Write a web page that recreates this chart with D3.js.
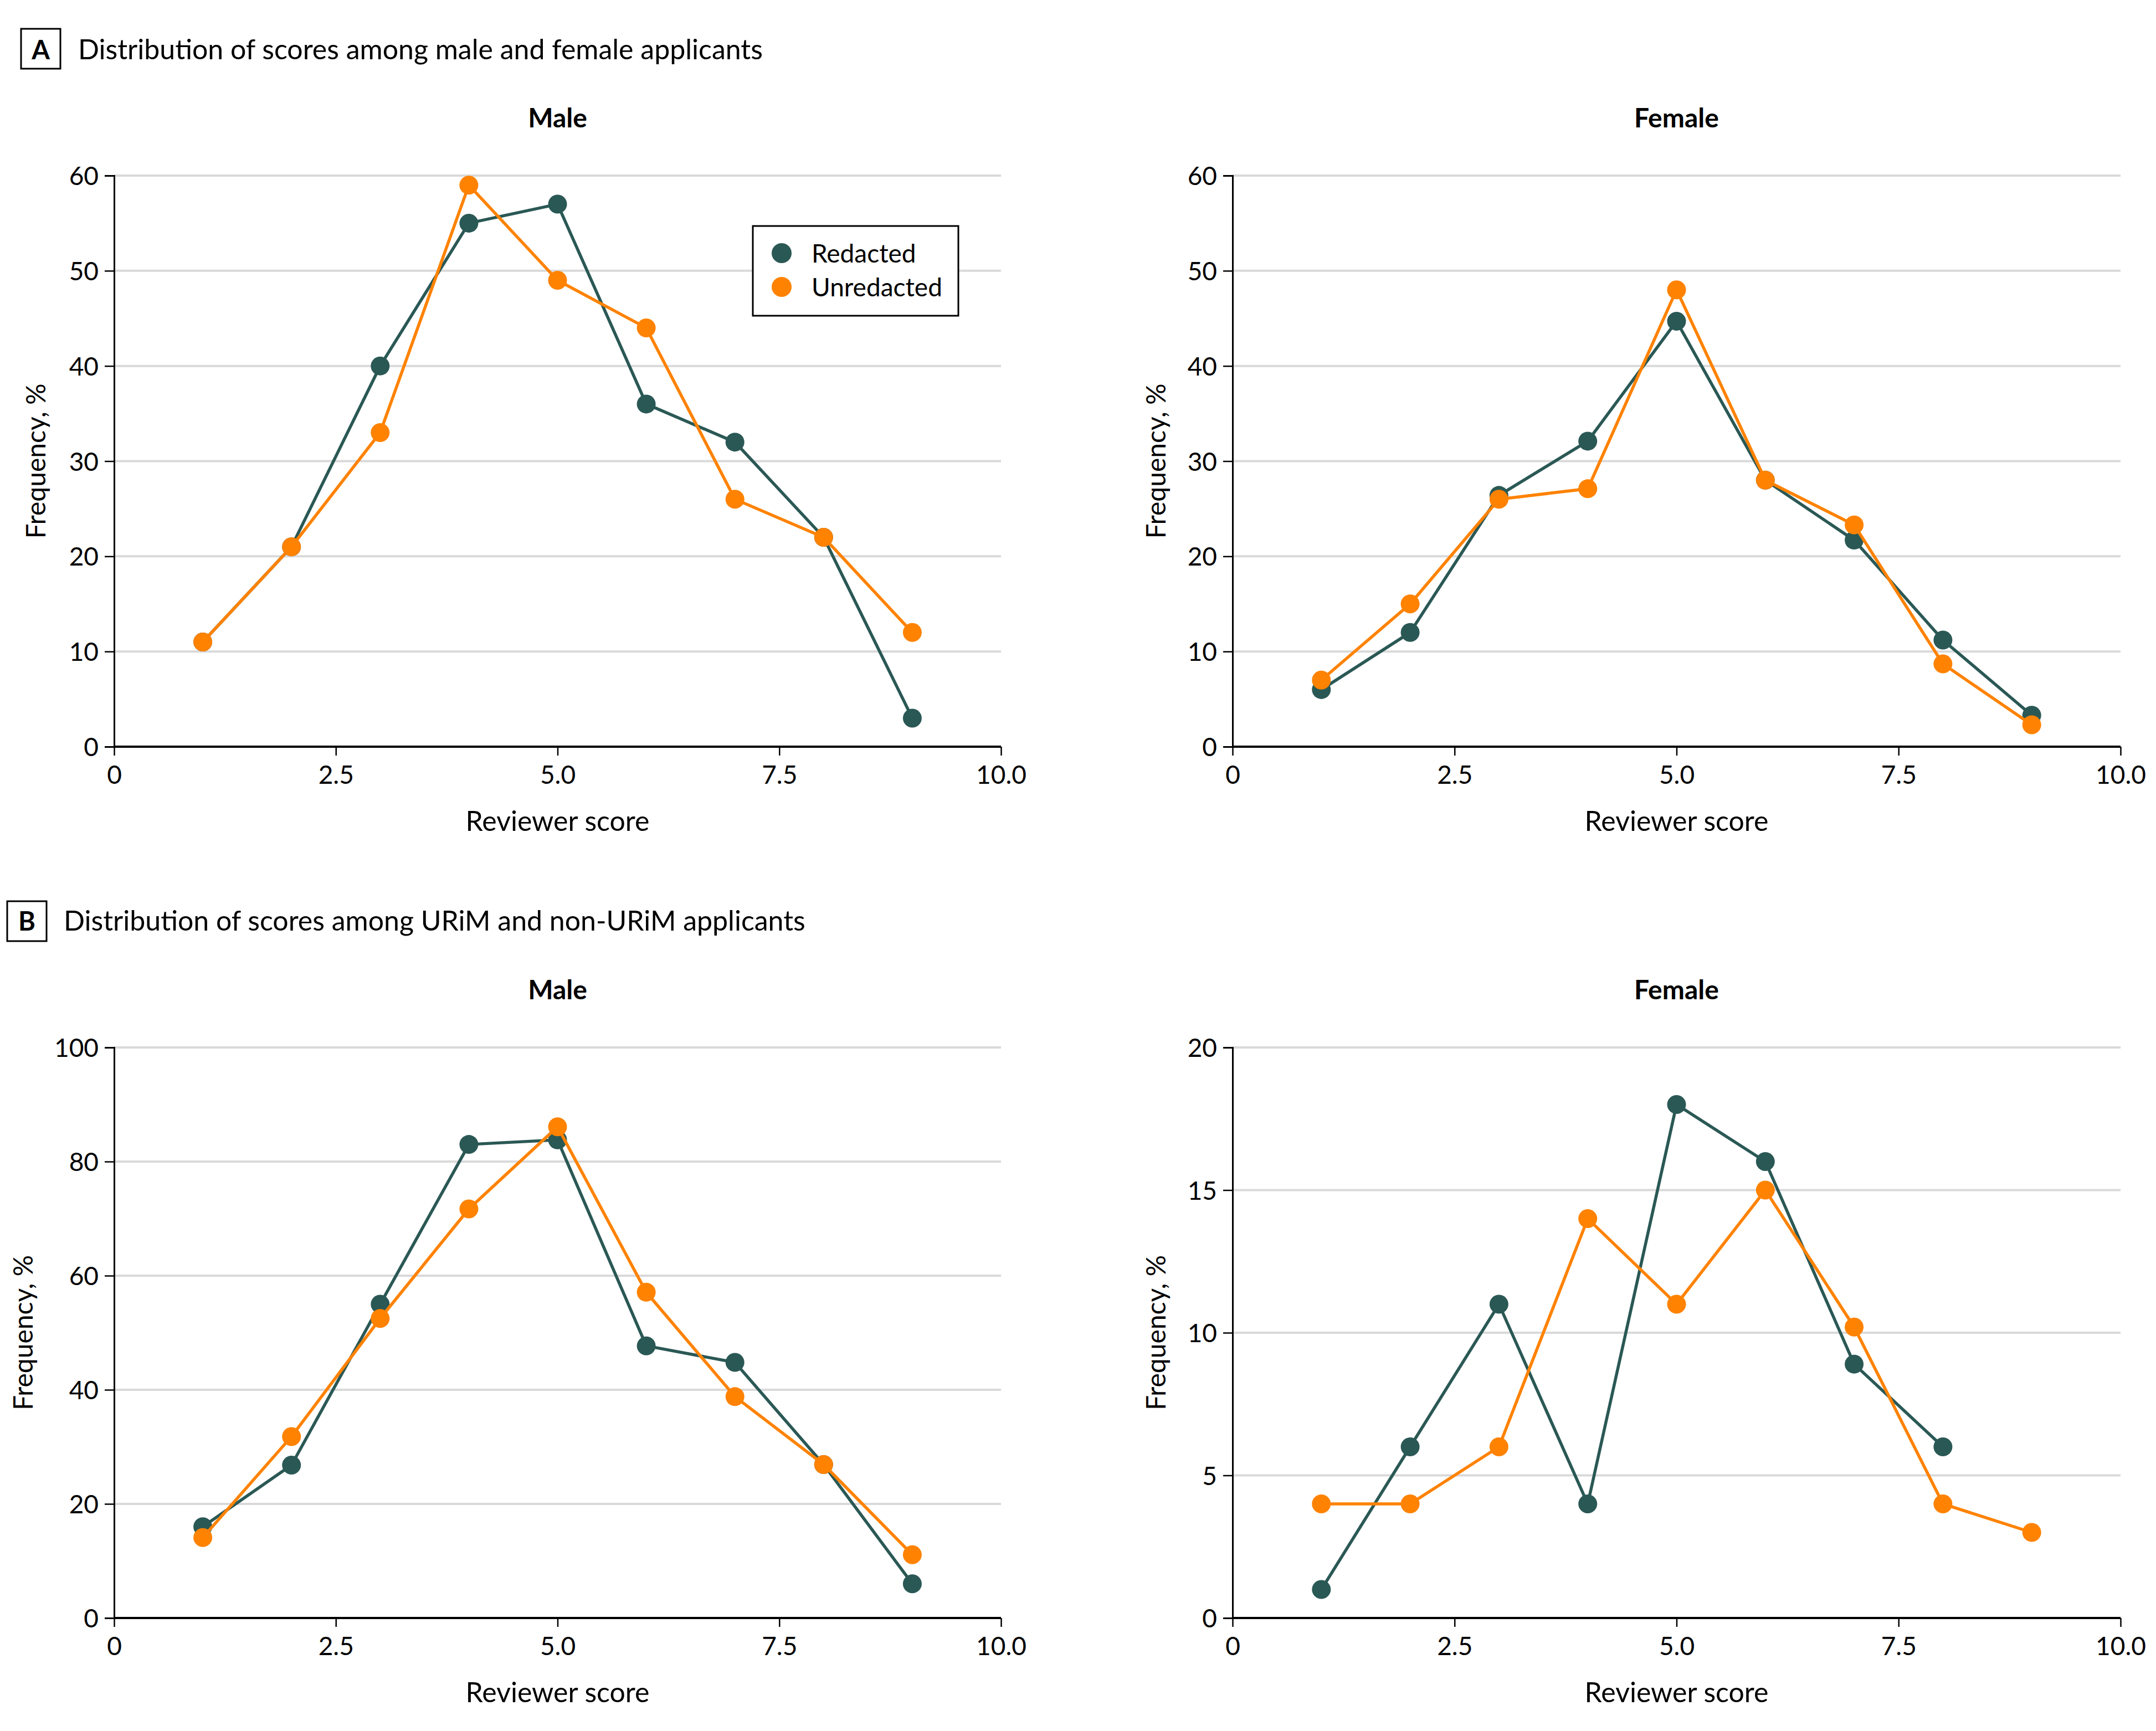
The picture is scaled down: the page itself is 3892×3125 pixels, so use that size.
<!DOCTYPE html>
<html lang="en">
<head>
<meta charset="utf-8">
<script src="https://d3js.org/d3.v7.min.js"></script>
<style>
  body { margin: 0; background: #fff; }
  text { font-family: Lato, "Open Sans", sans-serif; fill: #000; }
</style>
</head>
<body>
<div id="chart"></div>
<script>
// reviewer scores (x) shared by every panel
var scores = [1, 2, 3, 4, 5, 6, 7, 8, 9];
var xTicks = [0, 2.5, 5, 7.5, 10];
var seriesNames = ["Redacted", "Unredacted"];

// A: male / female applicants
var aMaleRedacted   = [11, 21, 40, 55, 57, 36, 32, 22, 3];
var aMaleUnredacted = [11, 21, 33, 59, 49, 44, 26, 22, 12];
var aFemaleRedacted   = [6, 12, 26.4, 32.1, 44.7, 28, 21.7, 11.2, 3.3];
var aFemaleUnredacted = [7, 15, 26, 27.1, 48, 28, 23.3, 8.7, 2.3];
var aTicks = [0, 10, 20, 30, 40, 50, 60];

// B: URiM / non-URiM applicants
var bMaleRedacted   = [16, 26.8, 55, 83, 83.8, 47.7, 44.8, 26.9, 6];
var bMaleUnredacted = [14.1, 31.8, 52.5, 71.7, 86.1, 57.1, 38.8, 26.9, 11.1];
var bMaleTicks = [0, 20, 40, 60, 80, 100];
var bFemaleRedacted   = [1, 6, 11, 4, 18, 16, 8.9, 6, null];
var bFemaleUnredacted = [4, 4, 6, 14, 11, 15, 10.2, 4, 3];
var bFemaleTicks = [0, 5, 10, 15, 20];

var colors = ["#2a5855", "#ff8200"];

var W = 3892, H = 3125;
var svg = d3.select("#chart").append("svg").attr("width", W).attr("height", H);

function sectionHeader(letter, title, bx, by, tx, baseline) {
  svg.append("rect").attr("x", bx).attr("y", by).attr("width", 71).attr("height", 72)
    .attr("fill", "none").attr("stroke", "#000").attr("stroke-width", 3);
  svg.append("text").attr("x", bx + 35.5).attr("y", baseline).attr("text-anchor", "middle")
    .style("font-size", "47px").style("font-weight", "bold").text(letter);
  svg.append("text").attr("x", tx).attr("y", baseline)
    .style("font-size", "50px").text(title);
}

function panel(p) {
  var x = d3.scaleLinear().domain([0, 10]).range([p.x0, p.x1]);
  var y = d3.scaleLinear().domain([0, p.ticks[p.ticks.length - 1]]).range([p.y0, p.y1]);
  var g = svg.append("g");

  // gridlines
  g.selectAll(".grid").data(p.ticks).enter().append("line")
    .attr("x1", p.x0).attr("x2", p.x1)
    .attr("y1", function(d) { return y(d); }).attr("y2", function(d) { return y(d); })
    .attr("stroke", "#d9d9d9").attr("stroke-width", 4);

  // y axis
  var ya = g.append("g").attr("transform", "translate(" + p.x0 + ",0)")
    .call(d3.axisLeft(y).tickValues(p.ticks).tickSize(17).tickPadding(11).tickFormat(d3.format("d")));
  ya.select(".domain").attr("stroke-width", 3);
  ya.selectAll(".tick line").attr("stroke-width", 2.5);
  ya.selectAll("text").attr("font-family", null).style("font-size", "46px").attr("dy", "0.36em");

  // x axis
  var xa = g.append("g").attr("transform", "translate(0," + p.y0 + ")")
    .call(d3.axisBottom(x).tickValues(xTicks).tickSize(16).tickPadding(18)
      .tickFormat(function(d) { return d === 0 ? "0" : d3.format(".1f")(d); }));
  xa.select(".domain").attr("stroke-width", 4).attr("d", "M" + p.x0 + ",0H" + p.x1);
  xa.selectAll(".tick line").attr("stroke-width", 2.5);
  xa.selectAll("text").attr("font-family", null).style("font-size", "46px");

  // titles
  g.append("text").attr("x", (p.x0 + p.x1) / 2).attr("y", p.y1 - 87).attr("text-anchor", "middle")
    .style("font-size", "48px").style("font-weight", "bold").text(p.title);
  g.append("text").attr("x", (p.x0 + p.x1) / 2).attr("y", p.y0 + 152).attr("text-anchor", "middle")
    .style("font-size", "50px").text("Reviewer score");
  g.append("text").attr("transform", "translate(" + p.ylx + "," + (p.y0 + p.y1) / 2 + ") rotate(-90)")
    .attr("text-anchor", "middle").attr("dy", "0.35em")
    .style("font-size", "48px").text("Frequency, %");

  // series: redacted first, unredacted drawn over it
  [p.red, p.unred].forEach(function(vals, si) {
    var pts = scores.map(function(s, i) { return { s: s, v: vals[i] }; })
      .filter(function(d) { return d.v != null; });
    var line = d3.line().x(function(d) { return x(d.s); }).y(function(d) { return y(d.v); });
    g.append("path").datum(pts).attr("d", line)
      .attr("fill", "none").attr("stroke", colors[si]).attr("stroke-width", 5.5);
    g.selectAll(".pt" + si).data(pts).enter().append("circle")
      .attr("cx", function(d) { return x(d.s); }).attr("cy", function(d) { return y(d.v); })
      .attr("r", 17).attr("fill", colors[si]);
  });

  if (p.legend) {
    var lg = g.append("g");
    lg.append("rect").attr("x", 1359).attr("y", 408).attr("width", 371).attr("height", 162)
      .attr("fill", "#fff").attr("stroke", "#000").attr("stroke-width", 3);
    seriesNames.forEach(function(n, i) {
      lg.append("circle").attr("cx", 1411).attr("cy", 457 + i * 61).attr("r", 18).attr("fill", colors[i]);
      lg.append("text").attr("x", 1465).attr("y", 457 + i * 61).attr("dy", "0.36em")
        .style("font-size", "46px").text(n);
    });
  }
}

sectionHeader("A", "Distribution of scores among male and female applicants", 38, 52, 141, 107);
sectionHeader("B", "Distribution of scores among URiM and non-URiM applicants", 13, 1627, 115, 1680);

panel({ title: "Male", x0: 206, x1: 1807, y0: 1348, y1: 317, ticks: aTicks,
        red: aMaleRedacted, unred: aMaleUnredacted, ylx: 65, legend: true });
panel({ title: "Female", x0: 2225, x1: 3828, y0: 1348, y1: 317, ticks: aTicks,
        red: aFemaleRedacted, unred: aFemaleUnredacted, ylx: 2087 });
panel({ title: "Male", x0: 206, x1: 1807, y0: 2921, y1: 1891, ticks: bMaleTicks,
        red: bMaleRedacted, unred: bMaleUnredacted, ylx: 42 });
panel({ title: "Female", x0: 2225, x1: 3828, y0: 2921, y1: 1891, ticks: bFemaleTicks,
        red: bFemaleRedacted, unred: bFemaleUnredacted, ylx: 2087 });
</script>
</body>
</html>
